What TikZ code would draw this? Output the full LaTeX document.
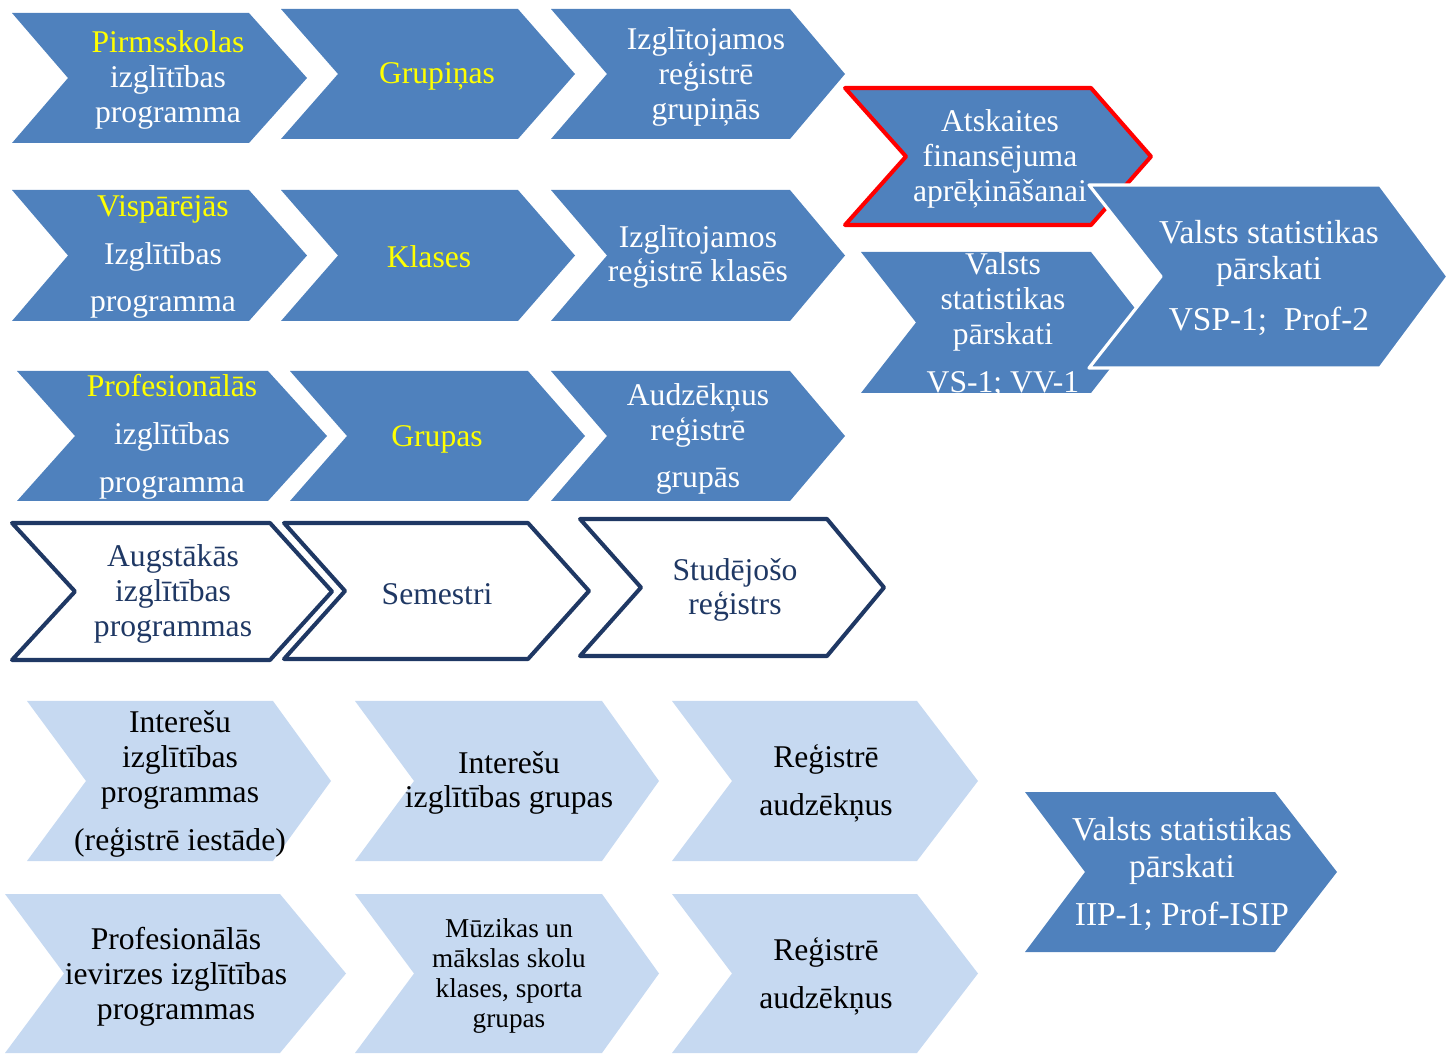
\documentclass[tikz,border=0pt]{standalone}
\usepackage{fontspec}
\setmainfont{Liberation Serif}
\usepackage{tikz}
\usetikzlibrary{positioning}
\usepackage{xcolor}
\definecolor{chblue}{HTML}{4F81BD}
\definecolor{chlight}{HTML}{C6D9F1}
\definecolor{chnavy}{HTML}{1F3864}
\definecolor{chyellow}{HTML}{FFFF00}
\definecolor{chred}{HTML}{FF0000}
% chevron: [style]{left}{top}{top-right}{tip}{bottom}{notch}
\newcommand{\chev}[7][]{%
  \path[#1] (#2,#3) -- (#4,#3) -- (#5,{(#3+#6)/2}) -- (#4,#6) -- (#2,#6) -- (#7,{(#3+#6)/2}) -- cycle;}
\newcommand{\yl}[1]{\textcolor{chyellow}{#1}}

\begin{document}
\begin{tikzpicture}[x=0.02cm, y=-0.02cm,
      full/.style={fill=chblue},
      pale/.style={fill=chlight},
      outl/.style={fill=white, draw=chnavy, line width=2.3pt, line join=round},
      redl/.style={fill=chblue, draw=chred, line width=2.3pt, line join=round},
      wlin/.style={fill=chblue, draw=white, line width=1.8pt, line join=round},
      txt/.style={text=white, font=\fontsize{18}{19.8}\selectfont, align=center, inner sep=0pt},
      big/.style={txt, font=\fontsize{19}{21}\selectfont},
      dark/.style={txt, text=black},
      navy/.style={txt, text=chnavy}]
    \useasboundingbox (0,0) rectangle (1451,1060);
    \chev[full]{12}{13}{249}{307}{143}{68}
    \chev[full]{281}{9}{518}{575}{139}{338}
    \chev[full]{551}{9}{790}{845}{139}{607}
    \chev[full]{12}{190}{249}{307}{321}{68}
    \chev[full]{281}{190}{518}{575}{321}{338}
    \chev[full]{551}{190}{790}{845}{321}{607}
    \chev[full]{17}{371}{268}{327}{501}{75}
    \chev[full]{290}{371}{528}{585}{501}{347}
    \chev[full]{551}{371}{790}{845}{501}{607}
    \chev[outl]{12}{523}{270}{332}{660}{75}
    \chev[outl]{284}{523}{528}{589}{659}{345}
    \chev[outl]{580}{519}{827}{884}{656}{641}
    \chev[pale]{27}{701}{273}{331}{861}{86}
    \chev[pale]{355}{701}{602}{659}{861}{414}
    \chev[pale]{672}{701}{917}{978}{861}{732}
    \chev[pale]{5}{894}{280}{346}{1053}{64}
    \chev[pale]{355}{894}{602}{659}{1053}{414}
    \chev[pale]{672}{894}{917}{978}{1053}{732}
    \chev[full]{1025}{792}{1275}{1337}{952}{1085}
    \node[txt] (pirmsprog) at (168,80) {\yl{Pirmsskolas}\\izglītības\\programma};
    \node[txt] (grupinas) at (437,76) {\yl{Grupiņas}};
    \node[txt] (reggrup) at (706,77) {Izglītojamos\\reģistrē\\grupiņās};
    \node[txt] (vispprog) at (163,257) {\yl{Vispārējās}\\[7.4pt]Izglītības\\[7.4pt]programma};
    \node[txt] (klases) at (429,257) {\yl{Klases}};
    \node[txt] (regklas) at (698,257) {Izglītojamos\\reģistrē klasēs};
    \node[txt] (profprog) at (172,437) {\yl{Profesionālās}\\[7.4pt]izglītības\\[7.4pt]programma};
    \node[txt] (grupas) at (437,439) {\yl{Grupas}};
    \node[txt] (regaudz) at (698,439) {Audzēkņus\\reģistrē\\[6.8pt]grupās};
    \node[navy] (augstprog) at (173,594) {Augstākās\\izglītības\\programmas};
    \node[navy] (semestri) at (437,594) {Semestri};
    \node[navy] (studreg) at (735,590) {Studējošo\\reģistrs};
    \node[dark] (interprog) at (180,784) {Interešu\\izglītības\\programmas\\[7.4pt](reģistrē iestāde)};
    \node[dark] (intergrup) at (509,783) {Interešu\\izglītības grupas};
    \node[dark] (regaudza) at (826,783) {Reģistrē\\[7.4pt]audzēkņus};
    \node[dark] (profievirz) at (176,977) {Profesionālās\\ievirzes izglītības\\programmas};
    \node[dark, font=\fontsize{15.5}{17}\selectfont] (muzika) at (509,976) {Mūzikas un\\mākslas skolu\\klases, sporta\\grupas};
    \node[dark] (regaudzb) at (826,976) {Reģistrē\\[7.4pt]audzēkņus};
    \node[big] (iip) at (1182,874) {Valsts statistikas\\pārskati\\[6.8pt]IIP-1; Prof-ISIP};
    \chev[redl]{845}{88}{1091}{1151}{225}{906}
    \node[txt] (finans) at (1000,159) {Atskaites\\finansējuma\\aprēķināšanai};
    \chev[full]{861}{252}{1091}{1146}{393}{916}
    \node[txt] (vsvv) at (1003,325) {Valsts\\statistikas\\pārskati\\[7.4pt]VS-1; VV-1};
    \chev[wlin]{1089}{185}{1380}{1448}{368}{1161}
    \node[big] (vspprof) at (1269,278) {Valsts statistikas\\pārskati\\[8pt]VSP-1;\ \ Prof-2};
  \end{tikzpicture}
\end{document}
